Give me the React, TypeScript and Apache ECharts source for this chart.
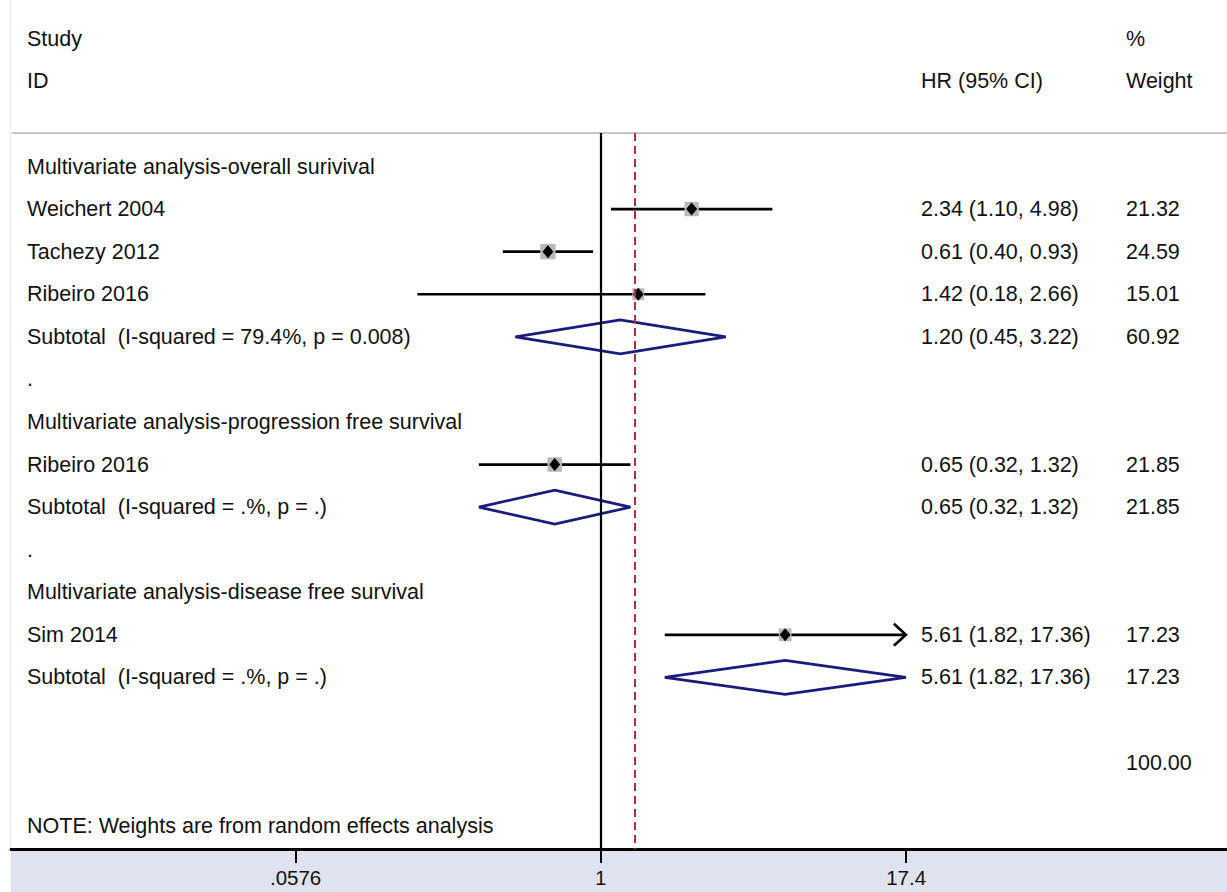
import React, { useEffect, useRef } from 'react';
import * as echarts from 'echarts';

// ---------- data ----------
const headerLeft = ['Study', 'ID'];
const headerRows = [-3, -2];
const hrHeader = 'HR (95% CI)';
const weightHeader = ['%', 'Weight'];

const groupHeaders = [
  'Multivariate analysis-overall surivival',
  'Multivariate analysis-progression free survival',
  'Multivariate analysis-disease free survival',
];
const groupRows = [0, 6, 10];
const separatorRows = [5, 9];

const studyNames = ['Weichert 2004', 'Tachezy 2012', 'Ribeiro 2016', 'Ribeiro 2016', 'Sim 2014'];
const studyRows = [1, 2, 3, 7, 11];
const studyHR = [2.34, 0.61, 1.42, 0.65, 5.61];
const studyLower = [1.1, 0.4, 0.18, 0.32, 1.82];
const studyUpper = [4.98, 0.93, 2.66, 1.32, 17.36];
const studyWeight = [21.32, 24.59, 15.01, 21.85, 17.23];

const subtotalLabels = [
  'Subtotal  (I-squared = 79.4%, p = 0.008)',
  'Subtotal  (I-squared = .%, p = .)',
  'Subtotal  (I-squared = .%, p = .)',
];
const subtotalRows = [4, 8, 12];
const subtotalHR = [1.2, 0.65, 5.61];
const subtotalLower = [0.45, 0.32, 1.82];
const subtotalUpper = [3.22, 1.32, 17.36];
const subtotalWeight = [60.92, 21.85, 17.23];

const overallHR = 1.37;
const overallRow = 14;
const overallWeight = 100.0;

const noteText = 'NOTE: Weights are from random effects analysis';
const noteRow = 15.5;

const tickValues = [0.0576, 1, 17.4];
const tickLabels = ['.0576', '1', '17.4'];
const axisMin = 0.00402;
const axisMax = 350;
const arrowLimit = 17.36;
const rowMin = -0.787;
const rowMax = 16.03;

// ---------- helpers ----------
const FONT = '"Liberation Sans", Arial, sans-serif';
const TEXT_COLOR = '#111111';
const LEFT_X = 27;
const HR_X = 921;
const WT_X = 1126;
const FONT_SIZE = 21.5;

const fmt = (v: number) => v.toFixed(2);
const ciText = (h: number, l: number, u: number) => `${fmt(h)} (${fmt(l)}, ${fmt(u)})`;

type TextItem = { row: number; text: string };

const leftTexts: TextItem[] = [
  ...headerLeft.map((t, i) => ({ row: headerRows[i], text: t })),
  ...groupHeaders.map((t, i) => ({ row: groupRows[i], text: t })),
  ...studyNames.map((t, i) => ({ row: studyRows[i], text: t })),
  ...subtotalLabels.map((t, i) => ({ row: subtotalRows[i], text: t })),
  ...separatorRows.map((r) => ({ row: r, text: '.' })),
  { row: noteRow, text: noteText },
];
const hrTexts: TextItem[] = [
  { row: headerRows[1], text: hrHeader },
  ...studyHR.map((h, i) => ({ row: studyRows[i], text: ciText(h, studyLower[i], studyUpper[i]) })),
  ...subtotalHR.map((h, i) => ({ row: subtotalRows[i], text: ciText(h, subtotalLower[i], subtotalUpper[i]) })),
];
const wtTexts: TextItem[] = [
  ...weightHeader.map((t, i) => ({ row: headerRows[i], text: t })),
  ...studyWeight.map((w, i) => ({ row: studyRows[i], text: fmt(w) })),
  ...subtotalWeight.map((w, i) => ({ row: subtotalRows[i], text: fmt(w) })),
  { row: overallRow, text: fmt(overallWeight) },
];

function textSeries(items: TextItem[], x: number, name: string) {
  return {
    type: 'custom',
    name,
    clip: false,
    silent: true,
    z: 5,
    data: items.map((t) => [1, t.row]),
    renderItem: (params: any, api: any) => {
      const t = items[params.dataIndex];
      const y = api.coord([1, t.row])[1];
      return {
        type: 'text',
        x,
        y,
        style: {
          text: t.text,
          fill: TEXT_COLOR,
          fontSize: FONT_SIZE,
          fontFamily: FONT,
          align: 'left',
          verticalAlign: 'middle',
        },
      };
    },
  };
}

export default function App() {
  const ref = useRef<HTMLDivElement>(null);

  useEffect(() => {
    if (!ref.current) return;
    const chart = echarts.init(ref.current, null, { renderer: 'svg' });

    const option: any = {
      animation: false,
      backgroundColor: '#ffffff',
      grid: { left: 11, right: 0, top: 133, bottom: 43, containLabel: false },
      xAxis: {
        type: 'log',
        logBase: Math.E,
        min: axisMin,
        max: axisMax,
        position: 'bottom',
        axisLine: { show: true, onZero: false, lineStyle: { color: '#000', width: 2.8 } },
        axisTick: {
          show: true,
          inside: false,
          length: 14,
          customValues: tickValues,
          lineStyle: { color: '#000', width: 2 },
        },
        axisLabel: {
          show: true,
          customValues: tickValues,
          margin: 18,
          color: TEXT_COLOR,
          fontSize: 20.5,
          fontFamily: FONT,
          formatter: (v: number) => {
            const idx = tickValues.findIndex((t) => Math.abs(t - v) / t < 1e-3);
            return idx >= 0 ? tickLabels[idx] : '';
          },
        },
        splitLine: { show: false },
      },
      yAxis: {
        type: 'value',
        inverse: true,
        min: rowMin,
        max: rowMax,
        show: false,
      },
      graphic: [
        {
          type: 'rect',
          z: -1,
          shape: { x: 11, y: 849, width: 1216, height: 43 },
          style: { fill: '#dfe3ef' },
          silent: true,
        },
        {
          type: 'line',
          z: -1,
          shape: { x1: 12, y1: 133, x2: 1227, y2: 133 },
          style: { stroke: '#c6c6c6', lineWidth: 2 },
          silent: true,
        },
        {
          type: 'line',
          z: -1,
          shape: { x1: 10.5, y1: 0, x2: 10.5, y2: 849 },
          style: { stroke: '#e6e9f4', lineWidth: 1 },
          silent: true,
        },
      ],
      series: [
        {
          type: 'custom',
          name: 'reference',
          z: 1,
          data: [],
          renderItem: () => ({ type: 'group', children: [] }),
          markLine: {
            silent: true,
            symbol: ['none', 'none'],
            label: { show: false },
            animation: false,
            data: [
              { xAxis: 1, lineStyle: { color: '#000', width: 2.2, type: 'solid' } },
              { xAxis: overallHR, lineStyle: { color: '#a8323f', width: 2, type: [8, 5] } },
            ],
          },
        },
        {
          type: 'custom',
          name: 'studies',
          z: 3,
          clip: false,
          data: studyHR.map((h, i) => [h, studyRows[i]]),
          renderItem: (params: any, api: any) => {
            const i = params.dataIndex;
            const row = studyRows[i];
            const c = api.coord([studyHR[i], row]);
            const xc = c[0];
            const y = c[1];
            const xl = api.coord([studyLower[i], row])[0];
            const xh = api.coord([Math.min(studyUpper[i], arrowLimit), row])[0];
            const s = 3.09 * Math.sqrt(studyWeight[i]);
            const children: any[] = [
              {
                type: 'line',
                shape: { x1: xl, y1: y, x2: xh, y2: y },
                style: { stroke: '#000', lineWidth: 2.7 },
              },
              {
                type: 'rect',
                shape: { x: xc - s / 2, y: y - s / 2, width: s, height: s },
                style: { fill: '#b9b9b9' },
              },
              {
                type: 'polygon',
                shape: { points: [[xc - 5.5, y], [xc, y - 6.5], [xc + 5.5, y], [xc, y + 6.5]] },
                style: { fill: '#000' },
              },
            ];
            if (studyUpper[i] >= arrowLimit) {
              children.push({
                type: 'polyline',
                shape: { points: [[xh - 12, y - 11], [xh, y], [xh - 12, y + 11]] },
                style: { stroke: '#000', lineWidth: 2.7, fill: 'none' },
              });
            }
            return { type: 'group', children };
          },
        },
        {
          type: 'custom',
          name: 'subtotals',
          z: 3,
          clip: false,
          data: subtotalHR.map((h, i) => [h, subtotalRows[i]]),
          renderItem: (params: any, api: any) => {
            const i = params.dataIndex;
            const row = subtotalRows[i];
            const c = api.coord([subtotalHR[i], row]);
            const xl = api.coord([subtotalLower[i], row])[0];
            const xh = api.coord([subtotalUpper[i], row])[0];
            const h = 17;
            return {
              type: 'polygon',
              shape: { points: [[xl, c[1]], [c[0], c[1] - h], [xh, c[1]], [c[0], c[1] + h]] },
              style: { fill: 'none', stroke: '#1b1b7c', lineWidth: 2.7 },
            };
          },
        },
        textSeries(leftTexts, LEFT_X, 'leftText'),
        textSeries(hrTexts, HR_X, 'hrText'),
        textSeries(wtTexts, WT_X, 'weightText'),
      ],
    };

    chart.setOption(option);
    return () => chart.dispose();
  }, []);

  return (
    <div
      ref={ref}
      style={{ position: 'absolute', left: 0, top: 0, width: 1227, height: 892, background: '#fff' }}
    />
  );
}
